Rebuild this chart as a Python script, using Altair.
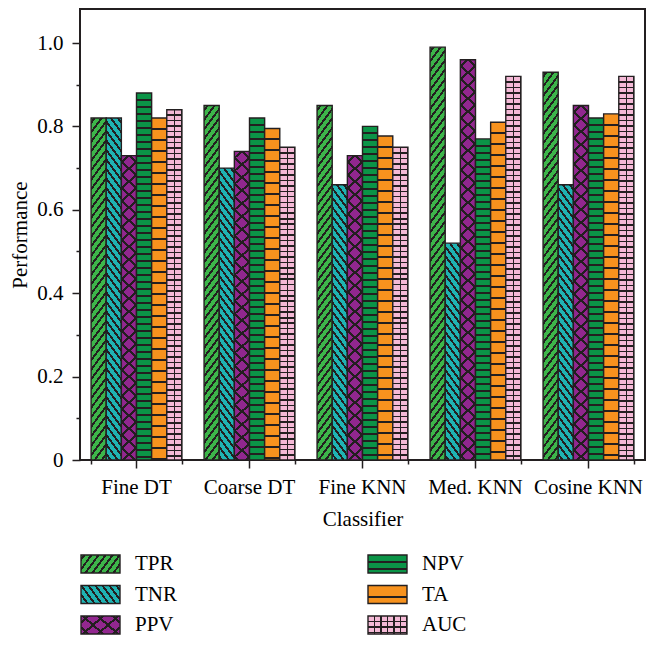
import altair as alt

# ---------------- data ----------------
classifiers = ["Fine DT", "Coarse DT", "Fine KNN", "Med. KNN", "Cosine KNN"]
metrics = ["TPR", "TNR", "PPV", "NPV", "TA", "AUC"]
tpr = [0.82, 0.85, 0.85, 0.99, 0.93]
tnr = [0.82, 0.70, 0.66, 0.52, 0.66]
ppv = [0.73, 0.74, 0.73, 0.96, 0.85]
npv = [0.88, 0.82, 0.80, 0.77, 0.82]
ta = [0.82, 0.795, 0.777, 0.81, 0.83]
auc = [0.84, 0.75, 0.75, 0.92, 0.92]
y_major = [0, 0.2, 0.4, 0.6, 0.8, 1.0]
y_minor = [0.1, 0.3, 0.5, 0.7, 0.9]
legend_cols = [0, 0, 0, 1, 1, 1]
legend_rows = [0, 1, 2, 0, 1, 2]

series = {"TPR": tpr, "TNR": tnr, "PPV": ppv, "NPV": npv, "TA": ta, "AUC": auc}

# ---------------- style ----------------
FONT = "Liberation Serif"
INK = "#231f20"
COLORS = {"TPR": "#3db54a", "TNR": "#1fb3b3", "PPV": "#92278f",
          "NPV": "#0b9447", "TA": "#f7921e", "AUC": "#f4b9d6"}
W, H = 565, 451
PX_PER_UNIT = 417.0
Y_MAX = H / PX_PER_UNIT
PAD_IN, PAD_OUT = 0.196, 0.098
STEP = W / (len(classifiers) - PAD_IN + 2 * PAD_OUT)
BAR_W = STEP * (1 - PAD_IN) / len(metrics)
LEG_W, LEG_H = 39, 18


def _centres(start, length, spacing, thick):
    out, c = [], start
    while c - thick / 2 < length:
        out.append(c)
        c += spacing
    return out


def _stops(centres, thick, length, base):
    stops = [{"offset": 0.0, "color": base}]
    last = 0.0
    for c in centres:
        a = min(max((c - thick / 2) / length, last), 1.0)
        b = min(max((c + thick / 2) / length, a), 1.0)
        stops += [{"offset": a, "color": base}, {"offset": a, "color": INK},
                  {"offset": b, "color": INK}, {"offset": b, "color": base}]
        last = b
    stops.append({"offset": 1.0, "color": base})
    return stops


def horiz(w, h, spacing, thick, base):
    cs = _centres(spacing, h, spacing, thick)
    return {"gradient": "linear", "x1": 0.5, "y1": 0, "x2": 0.5, "y2": 1,
            "stops": _stops(cs, thick, h, base)}


def vert(w, h, spacing, thick, base):
    cs = _centres(spacing, w - 0.5, spacing, thick)
    return {"gradient": "linear", "x1": 0, "y1": 0.5, "x2": 1, "y2": 0.5,
            "stops": _stops(cs, thick, w, base)}


def diag(w, h, slope, spacing, thick, base, forward=True):
    length = slope * w + h
    mu = length / (slope ** 2 * w ** 2 + h ** 2)
    cs = _centres(spacing / 2, length, spacing, thick)
    stops = _stops(cs, thick, length, base)
    if forward:
        x1, y1, x2, y2 = 0, 0, slope * w * mu, h * mu
    else:
        x1, y1, x2, y2 = 1, 0, 1 - slope * w * mu, h * mu
    return {"gradient": "linear", "x1": x1, "y1": y1, "x2": x2, "y2": y2, "stops": stops}


def patterns(metric, w, h):
    base = COLORS[metric]
    if metric == "TPR":
        return diag(w, h, 1.35, 9.5, 3.3, base, True), "transparent"
    if metric == "TNR":
        return diag(w, h, 1.35, 9.5, 3.3, base, False), "transparent"
    if metric == "PPV":
        return (diag(w, h, 0.87, 13, 2.8, base, True),
                diag(w, h, 0.87, 13, 2.8, "transparent", False))
    if metric == "NPV":
        return horiz(w, h, 7, 2.0, base), "transparent"
    if metric == "TA":
        return horiz(w, h, 11, 2.0, base), "transparent"
    n = max(1, round(w / 6.2))
    return (horiz(w, h, 5.5, 1.5, base),
            vert(w, h, w / n, 1.5, "transparent"))


bar_rows = []
for m in metrics:
    for c, v in zip(classifiers, series[m]):
        g1, g2 = patterns(m, BAR_W, v * PX_PER_UNIT)
        bar_rows.append({"Classifier": c, "Metric": m, "Value": v, "g1": g1, "g2": g2})

leg_data = []
for m, col, row in zip(metrics, legend_cols, legend_rows):
    g1, g2 = patterns(m, LEG_W, LEG_H)
    leg_data.append({"Metric": m, "col": col, "row": row, "g1": g1, "g2": g2})

# ---------------- main plot ----------------
x_scale = alt.Scale(paddingInner=PAD_IN, paddingOuter=PAD_OUT)
y_scale = alt.Scale(domain=[0, Y_MAX], nice=False, zero=True)
off = alt.XOffset("Metric:N", sort=metrics, scale=alt.Scale(paddingInner=0, paddingOuter=0))

bars = alt.Chart().mark_bar(stroke=INK, strokeWidth=1.4).encode(
    x=alt.X("Classifier:N", sort=classifiers, scale=x_scale,
            axis=alt.Axis(title="Classifier", labelAngle=0, tickSize=8, labelPadding=8,
                          titlePadding=11, domain=False, grid=False, orient="bottom")),
    y=alt.Y("Value:Q", scale=y_scale,
            axis=alt.Axis(title="Performance", values=y_major, tickSize=8, labelPadding=9,
                          titlePadding=6, domain=False, grid=False, orient="left",
                          labelExpr="datum.value == 0 ? '0' : format(datum.value, '.1f')")),
    xOffset=off,
    fill=alt.Fill("g1:N", scale=None),
)

overlay = alt.Chart().mark_bar(strokeWidth=0).encode(
    x=alt.X("Classifier:N", sort=classifiers, scale=x_scale,
            axis=alt.Axis(title=None, labels=False, tickSize=4, tickBand="extent",
                          domain=False, grid=False, orient="bottom")),
    y=alt.Y("Value:Q", scale=y_scale,
            axis=alt.Axis(title=None, labels=False, values=y_minor, tickSize=4,
                          domain=False, grid=False, orient="left")),
    xOffset=off,
    fill=alt.Fill("g2:N", scale=None),
)

main = alt.layer(bars, overlay, data=alt.Data(values=bar_rows)).resolve_axis(
    x="independent", y="independent"
).properties(width=W, height=H, view=alt.ViewBackground(stroke=INK, strokeWidth=2))

# ---------------- legend ----------------
lx = alt.X("col:Q", scale=alt.Scale(domain=[0, 1], range=[20.5, 307.5]), axis=None)
ly = alt.Y("row:Q", scale=alt.Scale(domain=[0, 2], range=[33, 94]), axis=None)
leg_base = alt.Chart(alt.Data(values=leg_data))
leg_sym = leg_base.mark_rect(width=LEG_W, height=LEG_H, stroke=INK, strokeWidth=1.4).encode(
    x=lx, y=ly, fill=alt.Fill("g1:N", scale=None))
leg_over = leg_base.mark_rect(width=LEG_W, height=LEG_H, strokeWidth=0).encode(
    x=lx, y=ly, fill=alt.Fill("g2:N", scale=None))
leg_txt = leg_base.mark_text(align="left", baseline="middle", dx=34.5, fontSize=21,
                             font=FONT, color="black").encode(x=lx, y=ly, text="Metric:N")
legend = alt.layer(leg_sym, leg_over, leg_txt).properties(width=W, height=104)

chart = alt.vconcat(main, legend, spacing=0).properties(
    padding={"left": 0, "top": 0, "right": 0, "bottom": 0}, background="white"
).configure_view(stroke="transparent").configure_axis(
    labelFont=FONT, titleFont=FONT, labelFontSize=21, titleFontSize=21,
    titleFontWeight="normal", labelColor="black", titleColor="black",
    tickColor=INK, tickWidth=1.5
)

chart.save("out.html", embed_options={"renderer": "svg", "actions": False})
